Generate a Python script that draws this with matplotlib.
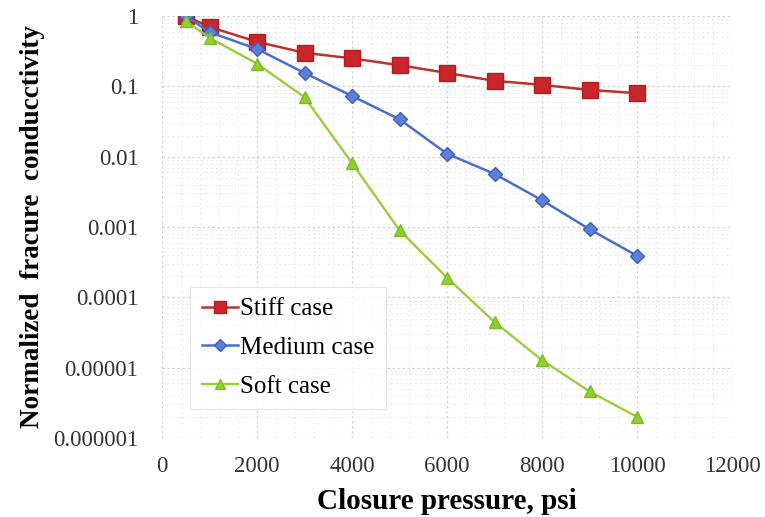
import matplotlib
matplotlib.use("Agg")
import matplotlib.pyplot as plt
from matplotlib.ticker import FixedLocator, MultipleLocator, LogLocator, NullFormatter

# Closure pressure (psi) and normalized conductivity for each case
pressure = [500, 1000, 2000, 3000, 4000, 5000, 6000, 7000, 8000, 9000, 10000]
stiff = [1.0, 0.70, 0.43, 0.30, 0.25, 0.20, 0.155, 0.12, 0.105, 0.089, 0.080]
medium = [1.0, 0.59, 0.34, 0.155, 0.073, 0.034, 0.011, 0.0057, 0.0024, 0.00093, 0.00039]
soft = [0.85, 0.49, 0.21, 0.070, 0.0081, 0.0009, 0.00019, 0.0000446, 0.0000128, 0.0000046, 0.000002]

y_ticks = [1, 0.1, 0.01, 0.001, 0.0001, 0.00001, 0.000001]
y_tick_labels = ["1", "0.1", "0.01", "0.001", "0.0001", "0.00001", "0.000001"]
x_ticks = [0, 2000, 4000, 6000, 8000, 10000, 12000]

plt.rcParams["font.family"] = ["Liberation Serif", "DejaVu Serif"]

fig = plt.figure(figsize=(7.65, 5.17), dpi=100)
ax = fig.add_axes([0.2118, 0.1528, 0.7451, 0.8162])

ax.plot(pressure, stiff, color="#c0302e", lw=1.8, marker="s", ms=11,
        mfc="#c8262a", mec="#b01e22", label="Stiff case")
ax.plot(pressure, medium, color="#4a6fc8", lw=1.8, marker="D", ms=7.5,
        mfc="#5a80d8", mec="#3c5fb8", label="Medium case")
ax.plot(pressure, soft, color="#9acd3c", lw=1.7, marker="^", ms=9,
        mfc="#8fcf2f", mec="#7cbb22", label="Soft case")

ax.set_yscale("log")
ax.set_ylim(1e-6, 1)
ax.set_xlim(0, 12000)
ax.yaxis.set_major_locator(FixedLocator(y_ticks))
ax.set_yticklabels(y_tick_labels)
ax.yaxis.set_minor_locator(LogLocator(base=10, subs=range(2, 10)))
ax.yaxis.set_minor_formatter(NullFormatter())
ax.set_xticks(x_ticks)
ax.xaxis.set_minor_locator(MultipleLocator(400))

ax.grid(which="major", color="#d4d4d4", lw=0.9, ls=(0, (2, 2)))
ax.grid(which="minor", color="#e8e8e8", lw=0.7, ls=(0, (2, 3)))
ax.set_axisbelow(True)

for spine in ax.spines.values():
    spine.set_visible(False)
ax.tick_params(which="both", length=0, labelsize=16.5, colors="#333333")
ax.tick_params(axis="y", pad=17)
ax.tick_params(axis="x", pad=13)

ax.set_xlabel("Closure pressure, psi", fontsize=21, fontweight="bold", labelpad=8)
ax.set_ylabel("Normalized  fracure  conducctivity", fontsize=19.5, fontweight="bold", labelpad=6)

leg = ax.legend(loc="lower left", bbox_to_anchor=(0.028, 0.039), fontsize=18,
                frameon=True, fancybox=False, handlelength=1.45, handletextpad=0.1,
                borderpad=0.45, labelspacing=0.65, markerscale=0.8)
leg.get_frame().set_edgecolor("#e0e0e0")
leg.get_frame().set_linewidth(0.8)

fig.savefig("out.png", dpi=100)
